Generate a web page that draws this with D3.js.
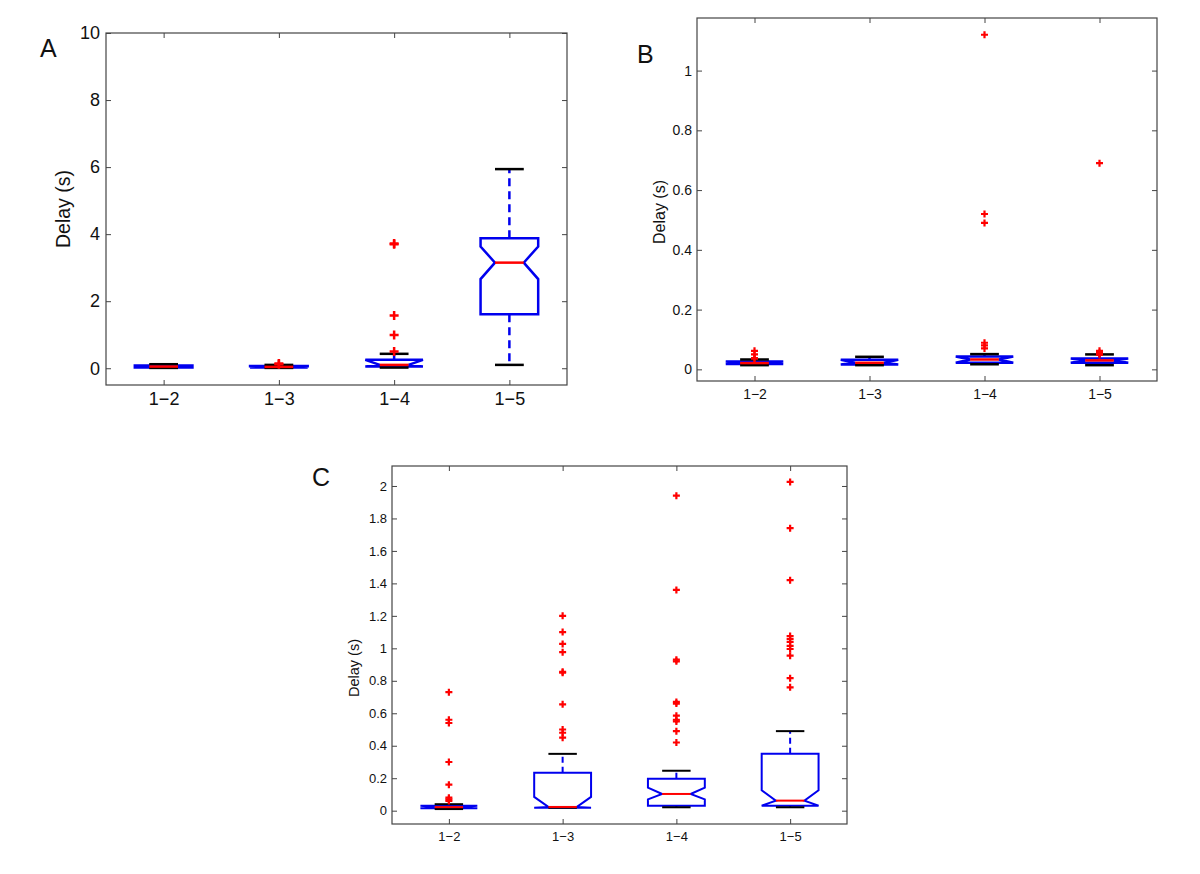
<!DOCTYPE html>
<html>
<head>
<meta charset="utf-8">
<script src="https://cdn.jsdelivr.net/npm/d3@7"></script>
<style>
  html, body { margin: 0; padding: 0; background: #fff; }
  svg { display: block; font-family: "Liberation Sans", Arial, Helvetica, sans-serif; }
</style>
</head>
<body>
<svg id="chart" width="1200" height="874"></svg>
<script>
// ---------------- DATA ----------------
const categories = ["1−2", "1−3", "1−4", "1−5"];

// Panel A
const aTicks    = [0, 2, 4, 6, 8, 10];
const aQ1       = [0.02, 0.02, 0.05, 1.61];
const aMedian   = [0.05, 0.04, 0.10, 3.15];
const aQ3       = [0.08, 0.07, 0.25, 3.88];
const aNotchLo  = [0.03, 0.02, 0.05, 2.66];
const aNotchHi  = [0.07, 0.06, 0.25, 3.63];
const aWhiskLo  = [0.01, 0.01, 0.02, 0.10];
const aWhiskHi  = [0.12, 0.10, 0.43, 5.94];
const aOutliers = [[], [0.14, 0.12], [3.72, 3.70, 1.57, 0.99, 0.50], []];

// Panel B
const bTicks    = [0, 0.2, 0.4, 0.6, 0.8, 1];
const bQ1       = [0.018, 0.016, 0.022, 0.022];
const bMedian   = [0.021, 0.022, 0.033, 0.030];
const bQ3       = [0.026, 0.032, 0.043, 0.036];
const bNotchLo  = [0.018, 0.016, 0.022, 0.022];
const bNotchHi  = [0.026, 0.032, 0.043, 0.036];
const bWhiskLo  = [0.014, 0.014, 0.017, 0.014];
const bWhiskHi  = [0.033, 0.042, 0.051, 0.050];
const bOutliers = [[0.062, 0.050, 0.038, 0.036], [], [1.12, 0.52, 0.49, 0.089, 0.080, 0.070], [0.69, 0.062, 0.055, 0.048]];

// Panel C
const cTicks    = [0, 0.2, 0.4, 0.6, 0.8, 1, 1.2, 1.4, 1.6, 1.8, 2];
const cQ1       = [0.015, 0.018, 0.031, 0.031];
const cMedian   = [0.022, 0.023, 0.103, 0.062];
const cQ3       = [0.030, 0.234, 0.197, 0.350];
const cNotchLo  = [0.015, 0.018, 0.070, 0.031];
const cNotchHi  = [0.030, 0.085, 0.142, 0.126];
const cWhiskLo  = [0.010, 0.018, 0.021, 0.021];
const cWhiskHi  = [0.040, 0.350, 0.246, 0.490];
const cOutliers = [
  [0.73, 0.56, 0.54, 0.30, 0.16, 0.08, 0.07, 0.06],
  [1.20, 1.10, 1.027, 0.976, 0.855, 0.85, 0.655, 0.50, 0.48, 0.45],
  [1.94, 1.36, 0.93, 0.92, 0.67, 0.66, 0.585, 0.56, 0.55, 0.49, 0.42],
  [2.025, 1.74, 1.42, 1.076, 1.058, 1.04, 1.015, 0.996, 0.955, 0.816, 0.76]
];

// ---------------- DRAWING ----------------
const svg = d3.select("#chart");

function buildRows(q1, med, q3, nlo, nhi, wlo, whi, outs) {
  return categories.map((c, i) => ({
    cat: c, q1: q1[i], med: med[i], q3: q3[i], nlo: nlo[i], nhi: nhi[i],
    wlo: wlo[i], whi: whi[i], outs: outs[i]
  }));
}

function drawPanel(cfg, rows, ticks) {
  const g = svg.append("g");
  const x = d3.scaleLinear().domain([0.5, 4.5]).range([cfg.left, cfg.right]);
  const y = d3.scaleLinear().domain(cfg.ydomain).range([cfg.bottom, cfg.top]);
  const step = x(2) - x(1);
  const hw = step * 0.25;       // half box width
  const nw = hw * 0.5;          // half notch width
  const cw = step * 0.125;      // half cap width

  // frame
  g.append("rect")
    .attr("x", cfg.left).attr("y", cfg.top)
    .attr("width", cfg.right - cfg.left).attr("height", cfg.bottom - cfg.top)
    .attr("fill", "none").attr("stroke", "#444").attr("stroke-width", 1.2);

  const tl = cfg.tickLen;
  const yAxisL = d3.axisLeft(y).tickValues(ticks).tickSize(-tl).tickPadding(tl + cfg.yPad).tickFormat(d3.format("~g"));
  const yAxisR = d3.axisRight(y).tickValues(ticks).tickSize(-tl).tickFormat("");
  const xAxisB = d3.axisBottom(x).tickValues([1, 2, 3, 4]).tickSize(-tl).tickPadding(tl + cfg.xPad).tickFormat((d) => categories[d - 1]);
  const xAxisT = d3.axisTop(x).tickValues([1, 2, 3, 4]).tickSize(-tl).tickFormat("");

  function style(sel, fs) {
    sel.select(".domain").remove();
    sel.selectAll(".tick line").attr("stroke", "#444").attr("stroke-width", 1);
    sel.selectAll(".tick text").attr("fill", "#111").style("font-size", fs + "px")
      .style("font-family", '"Liberation Sans", Arial, sans-serif');
  }
  g.append("g").attr("transform", `translate(${cfg.left},0)`).call(yAxisL).call(style, cfg.tickFont);
  g.append("g").attr("transform", `translate(${cfg.right},0)`).call(yAxisR).call(style, cfg.tickFont);
  g.append("g").attr("transform", `translate(0,${cfg.bottom})`).call(xAxisB).call(style, cfg.tickFont);
  g.append("g").attr("transform", `translate(0,${cfg.top})`).call(xAxisT).call(style, cfg.tickFont);

  g.append("text")
    .attr("transform", `translate(${cfg.labelX},${cfg.labelY}) rotate(-90)`)
    .attr("text-anchor", "middle").attr("dy", "0.35em")
    .style("font-size", cfg.labelFont + "px").attr("fill", "#111")
    .text("Delay (s)");

  g.append("text").attr("x", cfg.letterX).attr("y", cfg.letterY)
    .style("font-size", cfg.letterFont + "px").attr("fill", "#111")
    .text(cfg.letter);

  const boxes = g.selectAll(".box").data(rows).join("g").attr("class", "box");

  boxes.append("path")
    .attr("d", (d, i) => {
      const cx = x(i + 1);
      const pts = [
        [cx - hw, y(d.q3)], [cx - hw, y(d.nhi)], [cx - nw, y(d.med)], [cx - hw, y(d.nlo)],
        [cx - hw, y(d.q1)], [cx + hw, y(d.q1)], [cx + hw, y(d.nlo)], [cx + nw, y(d.med)],
        [cx + hw, y(d.nhi)], [cx + hw, y(d.q3)]
      ];
      return d3.line()(pts) + "Z";
    })
    .attr("fill", "none").attr("stroke", "#0000ee").attr("stroke-width", cfg.lw)
    .attr("stroke-linejoin", "miter");

  boxes.append("line")
    .attr("x1", (d, i) => x(i + 1)).attr("x2", (d, i) => x(i + 1))
    .attr("y1", d => y(d.q3)).attr("y2", d => y(d.whi))
    .attr("stroke", "#0000ee").attr("stroke-width", cfg.lw).attr("stroke-dasharray", cfg.dash);
  boxes.append("line")
    .attr("x1", (d, i) => x(i + 1)).attr("x2", (d, i) => x(i + 1))
    .attr("y1", d => y(d.q1)).attr("y2", d => y(d.wlo))
    .attr("stroke", "#0000ee").attr("stroke-width", cfg.lw).attr("stroke-dasharray", cfg.dash);

  boxes.append("line")
    .attr("x1", (d, i) => x(i + 1) - cw).attr("x2", (d, i) => x(i + 1) + cw)
    .attr("y1", d => y(d.whi)).attr("y2", d => y(d.whi))
    .attr("stroke", "#000").attr("stroke-width", cfg.lw);
  boxes.append("line")
    .attr("x1", (d, i) => x(i + 1) - cw).attr("x2", (d, i) => x(i + 1) + cw)
    .attr("y1", d => y(d.wlo)).attr("y2", d => y(d.wlo))
    .attr("stroke", "#000").attr("stroke-width", cfg.lw);

  boxes.append("line")
    .attr("x1", (d, i) => x(i + 1) - nw).attr("x2", (d, i) => x(i + 1) + nw)
    .attr("y1", d => y(d.med)).attr("y2", d => y(d.med))
    .attr("stroke", "#ff0000").attr("stroke-width", cfg.lw);

  const ms = cfg.marker;
  boxes.each(function (d, i) {
    const cx = x(i + 1);
    d3.select(this).selectAll(".out").data(d.outs).join("path").attr("class", "out")
      .attr("d", v => `M${cx - ms},${y(v)}H${cx + ms}M${cx},${y(v) - ms}V${y(v) + ms}`)
      .attr("stroke", "#ff0000").attr("stroke-width", cfg.mlw).attr("fill", "none");
  });
}

drawPanel({
  left: 106, right: 567, top: 33, bottom: 385, ydomain: [-0.5, 10],
  tickLen: 5, yPad: 1, xPad: 2, tickFont: 18, labelFont: 19.5, labelX: 63, labelY: 209,
  letter: "A", letterX: 40, letterY: 57, letterFont: 25,
  lw: 2.5, dash: "8,5", marker: 4.5, mlw: 2.5
}, buildRows(aQ1, aMedian, aQ3, aNotchLo, aNotchHi, aWhiskLo, aWhiskHi, aOutliers), aTicks);

drawPanel({
  left: 697, right: 1157, top: 18, bottom: 381, ydomain: [-0.039, 1.176],
  tickLen: 5, yPad: 0, xPad: 3, tickFont: 14, labelFont: 16, labelX: 659, labelY: 212,
  letter: "B", letterX: 637, letterY: 63, letterFont: 25,
  lw: 2.5, dash: "6,4", marker: 3.5, mlw: 2.2
}, buildRows(bQ1, bMedian, bQ3, bNotchLo, bNotchHi, bWhiskLo, bWhiskHi, bOutliers), bTicks);

drawPanel({
  left: 392, right: 847, top: 466, bottom: 824, ydomain: [-0.082, 2.123],
  tickLen: 5, yPad: 0, xPad: 3, tickFont: 13, labelFont: 14.5, labelX: 354, labelY: 668,
  letter: "C", letterX: 312, letterY: 486, letterFont: 25,
  lw: 2, dash: "6,4", marker: 3.5, mlw: 2.2
}, buildRows(cQ1, cMedian, cQ3, cNotchLo, cNotchHi, cWhiskLo, cWhiskHi, cOutliers), cTicks);
</script>
</body>
</html>
